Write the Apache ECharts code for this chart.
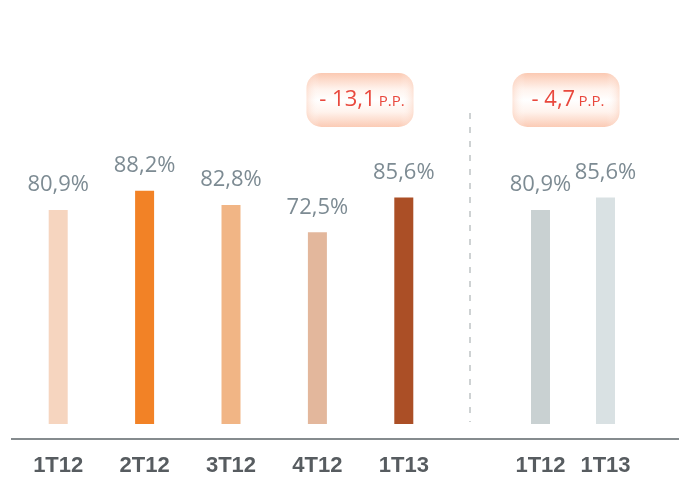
<!DOCTYPE html>
<html>
<head>
<meta charset="utf-8">
<script src="https://cdn.jsdelivr.net/npm/echarts@6/dist/echarts.min.js"></script>
<style>
  html, body { margin: 0; padding: 0; background: #fff; }
  #chart { width: 679px; height: 477px; }
</style>
</head>
<body>
<div id="chart"></div>
<script>
// quarters on the left block, then the year-over-year pair on the right
const leftCategories = ['1T12', '2T12', '3T12', '4T12', '1T13']
const leftValues = [80.9, 88.2, 82.8, 72.5, 85.6]
const leftColors = ['#f6d5bf', '#f28226', '#f1b585', '#e3b79c', '#ab4f26']

const rightCategories = ['1T12', '1T13']
const rightValues = [80.9, 85.6]
const rightColors = ['#c9d1d2', '#d9e1e3']

// variation badges
const badgeValues = ['- 13,1', '- 4,7']
const badgeUnit = 'P.P.'

const valueFont = '"Open Sans", "Noto Sans", sans-serif'
const catFont = '"Liberation Sans", "Open Sans", sans-serif'

function pct(v) {
  return v.toFixed(1).replace('.', ',') + '%'
}

function barSeries(idx, values, colors) {
  return {
    type: 'bar',
    xAxisIndex: idx,
    yAxisIndex: idx,
    barWidth: 19,
    data: values.map((v, i) => ({ value: v, itemStyle: { color: colors[i] } })),
    label: {
      show: true,
      position: 'top',
      distance: 14,
      formatter: p => pct(p.value),
      fontFamily: valueFont,
      fontSize: 22,
      color: '#7d8b93'
    },
    silent: true,
    animation: false
  }
}

function xAxis(idx, cats) {
  return {
    type: 'category',
    gridIndex: idx,
    data: cats,
    axisLine: { show: false },
    axisTick: { show: false },
    axisLabel: {
      interval: 0,
      margin: 31,
      fontFamily: catFont,
      fontWeight: 'bold',
      fontSize: 22,
      color: '#575c60'
    }
  }
}

function yAxis(idx) {
  return { type: 'value', gridIndex: idx, min: 0, max: 100, show: false }
}

function badge(cx, text) {
  const w = 107
  const h = 54
  return {
    type: 'group',
    x: cx - w / 2,
    y: 73,
    children: [
      {
        type: 'rect',
        shape: { x: 0, y: 0, width: w, height: h, r: 15 },
        style: {
          fill: {
            type: 'linear', x: 0, y: 0, x2: 0, y2: 1,
            colorStops: [
              { offset: 0, color: '#fbc9b2' },
              { offset: 0.3, color: '#fff3ed' },
              { offset: 0.5, color: '#ffffff' },
              { offset: 0.72, color: '#fff3ed' },
              { offset: 1, color: '#fbcbb5' }
            ]
          }
        }
      },
      {
        type: 'rect',
        shape: { x: 0, y: 0, width: w, height: h, r: 15 },
        style: {
          fill: {
            type: 'linear', x: 0, y: 0, x2: 1, y2: 0,
            colorStops: [
              { offset: 0, color: 'rgba(251,205,184,0.5)' },
              { offset: 0.12, color: 'rgba(255,255,255,0)' },
              { offset: 0.88, color: 'rgba(255,255,255,0)' },
              { offset: 1, color: 'rgba(251,205,184,0.5)' }
            ]
          }
        }
      },
      {
        type: 'text',
        x: w / 2 + 2,
        y: h / 2,
        style: {
          text: '{v|' + text + '} {u|' + badgeUnit + '}',
          align: 'center',
          verticalAlign: 'middle',
          rich: {
            v: { fontFamily: valueFont, fontSize: 22, fill: '#e9483d' },
            u: { fontFamily: valueFont, fontSize: 15, fill: '#e9483d', padding: [3, 0, 0, 0] }
          }
        }
      }
    ]
  }
}

const chart = echarts.init(document.getElementById('chart'))
chart.setOption({
  backgroundColor: '#fff',
  animation: false,
  grid: [
    { left: 15, width: 432, top: 159.5, bottom: 50 },
    { left: 508, width: 130, top: 159.5, bottom: 50 }
  ],
  xAxis: [xAxis(0, leftCategories), xAxis(1, rightCategories)],
  yAxis: [yAxis(0), yAxis(1)],
  series: [
    barSeries(0, leftValues, leftColors),
    barSeries(1, rightValues, rightColors)
  ],
  graphic: [
    // baseline across the whole chart
    {
      type: 'line',
      shape: { x1: 11, y1: 439, x2: 679, y2: 439 },
      style: { stroke: '#5c6468', lineWidth: 1.5 }
    },
    // separator between the two blocks
    {
      type: 'line',
      shape: { x1: 470, y1: 113, x2: 470, y2: 422 },
      style: { stroke: '#bfc3c5', lineWidth: 1.5, lineDash: [6, 8] }
    },
    badge(360, badgeValues[0]),
    badge(566, badgeValues[1])
  ]
})
</script>
</body>
</html>
